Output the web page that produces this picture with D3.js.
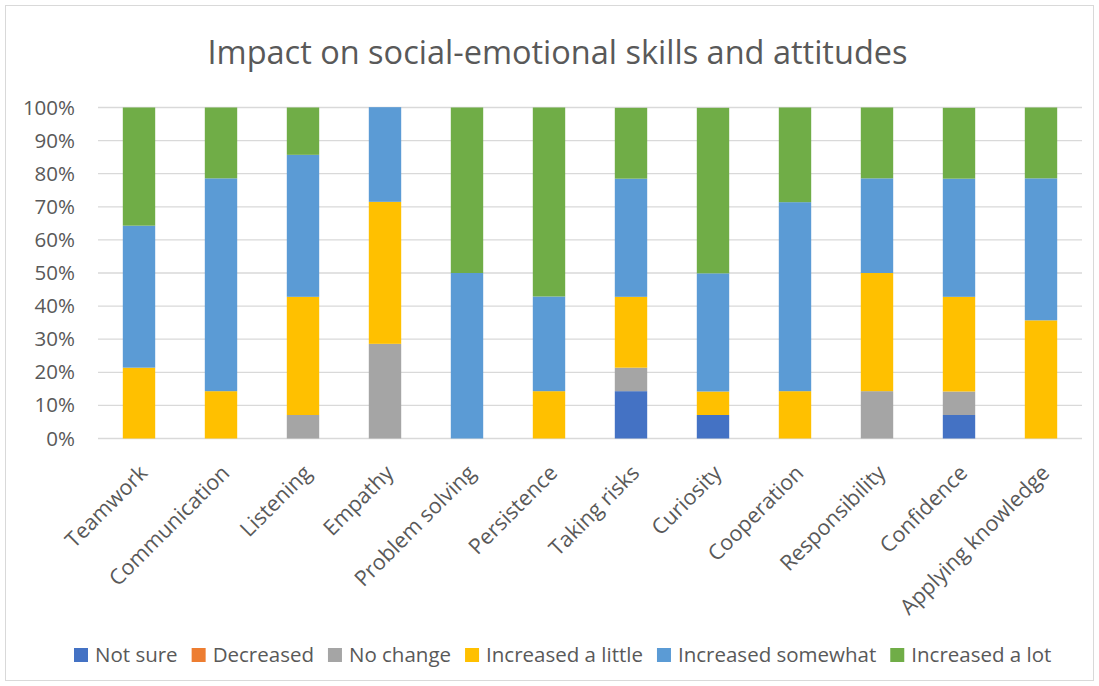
<!DOCTYPE html>
<html>
<head>
<meta charset="utf-8">
<title>Impact on social-emotional skills and attitudes</title>
<script src="https://cdnjs.cloudflare.com/ajax/libs/d3/7.8.5/d3.min.js"></script>
<style>
  body { margin: 0; background: #fff; }
  svg text { font-family: "Open Sans", sans-serif; fill: #595959; }
</style>
</head>
<body>
<div id="chart"></div>
<script>
// percentages per category
var categories = ["Teamwork", "Communication", "Listening", "Empathy", "Problem solving",
  "Persistence", "Taking risks", "Curiosity", "Cooperation", "Responsibility",
  "Confidence", "Applying knowledge"];
var seriesNames = ["Not sure", "Decreased", "No change", "Increased a little",
  "Increased somewhat", "Increased a lot"];
var colors = ["#4472C4", "#ED7D31", "#A5A5A5", "#FFC000", "#5B9BD5", "#70AD47"];

var notSure   = [0, 0, 0, 0, 0, 0, 14.3, 7.1, 0, 0, 7.1, 0];
var decreased = [0, 0, 0, 0, 0, 0, 0, 0, 0, 0, 0, 0];
var noChange  = [0, 0, 7.1, 28.6, 0, 0, 7.1, 0, 0, 14.3, 7.1, 0];
var incLittle = [21.4, 14.3, 35.7, 42.9, 0, 14.3, 21.4, 7.1, 14.3, 35.7, 28.6, 35.7];
var incSome   = [42.9, 64.3, 42.9, 28.6, 50, 28.6, 35.7, 35.7, 57.1, 28.6, 35.7, 42.9];
var incLot    = [35.7, 21.4, 14.3, 0, 50, 57.1, 21.4, 50, 28.6, 21.4, 21.4, 21.4];

var yTicks = [0, 10, 20, 30, 40, 50, 60, 70, 80, 90, 100];

var W = 1099, H = 686;
var margin = {left: 98, right: 17, top: 107.5, bottom: 247.5};
var fontSize = '20.5px';

var svg = d3.select('#chart').append('svg').attr('width', W).attr('height', H);

// chart border
svg.append('rect').attr('x', 5.5).attr('y', 5.5).attr('width', W - 11).attr('height', H - 11)
  .style('fill', '#fff').style('stroke', '#d9d9d9').style('stroke-width', 1);

svg.append('text').attr('x', 557.5).attr('y', 64).style('text-anchor', 'middle')
  .style('font-size', '32.5px').text('Impact on social-emotional skills and attitudes');

var allSeries = [notSure, decreased, noChange, incLittle, incSome, incLot];
var rows = categories.map(function(c, i) {
  var r = {cat: c};
  seriesNames.forEach(function(s, k) { r[s] = allSeries[k][i]; });
  return r;
});
var stacked = d3.stack().keys(seriesNames)(rows);

var x = d3.scaleBand().domain(categories).range([margin.left, W - margin.right])
  .paddingInner(0.605).paddingOuter(0.3025);
var y = d3.scaleLinear().domain([0, 100]).range([H - margin.bottom, margin.top]);

// gridlines
svg.append('g').selectAll('line').data(yTicks).join('line')
  .attr('x1', margin.left).attr('x2', W - margin.right)
  .attr('y1', function(d) { return y(d); }).attr('y2', function(d) { return y(d); })
  .style('stroke', '#d9d9d9').style('stroke-width', 1.3);

// bars
svg.append('g').selectAll('g').data(stacked).join('g')
  .style('fill', function(d, i) { return colors[i]; })
  .selectAll('rect').data(function(d) { return d; }).join('rect')
  .attr('x', function(d) { return x(d.data.cat); })
  .attr('width', x.bandwidth())
  .attr('y', function(d) { return y(d[1]); })
  .attr('height', function(d) { return y(d[0]) - y(d[1]); });

// y axis
var yAxis = svg.append('g').attr('transform', 'translate(' + margin.left + ',0)')
  .call(d3.axisLeft(y).tickValues(yTicks).tickFormat(function(d) { return d + '%'; })
    .tickSize(0).tickPadding(23));
yAxis.select('.domain').remove();
yAxis.selectAll('text').style('font-size', fontSize).style('fill', '#595959')
  .style('font-family', '"Open Sans", sans-serif');

// x axis
var xAxis = svg.append('g').attr('transform', 'translate(0,' + (H - margin.bottom) + ')')
  .call(d3.axisBottom(x).tickSize(0).tickPadding(0));
xAxis.select('.domain').remove();
xAxis.selectAll('text')
  .style('font-size', '21.5px').style('fill', '#595959')
  .style('font-family', '"Open Sans", sans-serif')
  .style('text-anchor', 'end')
  .attr('dy', '0.35em')
  .attr('y', 0)
  .attr('transform', 'translate(4.5,30.5) rotate(-45)');

// legend, laid out from measured text widths
var legend = svg.append('g');
var lx = 74;
seriesNames.forEach(function(name, i) {
  var g = legend.append('g').attr('transform', 'translate(' + lx + ',655)');
  g.append('rect').attr('x', 0).attr('y', -7).attr('width', 14).attr('height', 14)
    .style('fill', colors[i]);
  var t = g.append('text').attr('x', 21).attr('y', 0).attr('dy', '0.35em')
    .style('font-size', fontSize).text(name);
  lx += 21 + t.node().getComputedTextLength() + 14;
});
</script>
</body>
</html>
